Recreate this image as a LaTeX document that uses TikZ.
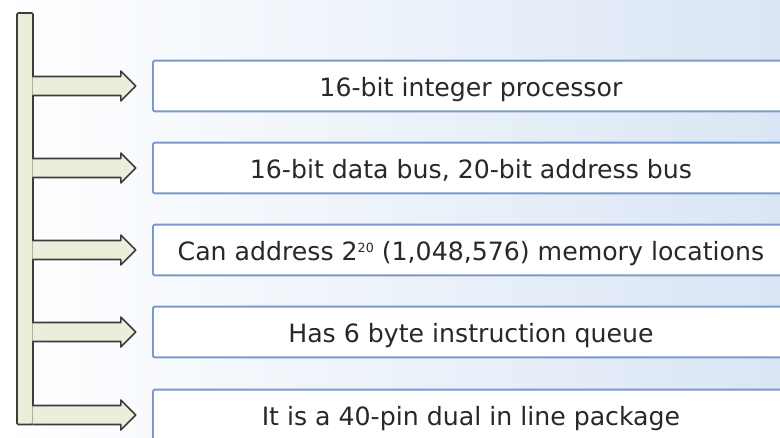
\documentclass[tikz,border=0pt]{standalone}
\usepackage{fontspec}
\setmainfont{DejaVu Sans}
\usetikzlibrary{calc}

\definecolor{bgblue}{RGB}{218,230,245}
\definecolor{barfill}{RGB}{236,238,220}
\definecolor{edgegray}{RGB}{60,60,60}
\definecolor{boxblue}{RGB}{122,154,204}
\definecolor{textgray}{RGB}{40,40,40}

\newcommand{\smallsup}[1]{\raisebox{6pt}{\fontsize{9.5}{10}\selectfont #1}}

\tikzset{
  featurebox/.style={draw=boxblue, line width=1.4pt, fill=white, rounded corners=1.5pt,
    minimum width=477pt, minimum height=38pt, anchor=west, inner sep=0pt,
    text height=15.2pt, text depth=0pt,
    text=textgray, font=\fontsize{18.9}{22}\selectfont},
  spine/.style={draw=edgegray, line width=1.2pt, fill=barfill, rounded corners=1pt,
    minimum width=12pt, minimum height=308.6pt, inner sep=0pt},
  arm/.style={draw=edgegray, line width=1.2pt, fill=barfill, line join=round}
}

\begin{document}
\begin{tikzpicture}[x=0.75pt, y=-0.75pt]
  \useasboundingbox (0,0) rectangle (780,437);
  \clip (0,0) rectangle (780,437);
  \shade[left color=white, right color=bgblue] (0,0) rectangle (780,437);

  \node[spine] (bar) at (25,218.75) {};

  \node[featurebox] (box1) at (152,86) {16-bit integer processor};
  \node[featurebox] (box2) at (152,168) {16-bit data bus, 20-bit address bus};
  \node[featurebox] (box3) at (152,250) {Can address 2\smallsup{20} (1,048,576) memory locations};
  \node[featurebox] (box4) at (152,332) {Has 6 byte instruction queue};
  \node[featurebox] (box5) at (152,415) {It is a 40-pin dual in line package};

  % arrows from the spine to each box
  \foreach \i in {1,...,5}
    \filldraw[arm] ($(bar.east |- box\i.west)+(-1.5,-9.5)$) -- ++(88.5,0) -- ++(0,-5.5)
      -- ++(15,15) -- ++(-15,15) -- ++(0,-5.5) -- ++(-88.5,0);

\end{tikzpicture}
\end{document}
